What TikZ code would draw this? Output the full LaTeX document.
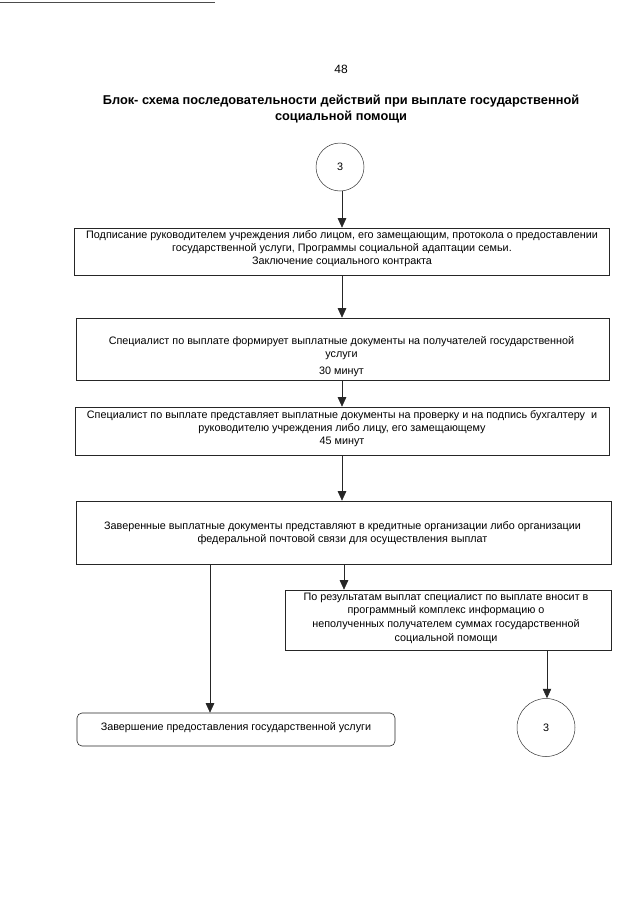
\documentclass[tikz,border=0pt]{standalone}
\usepackage{fontspec}
\setmainfont{Liberation Sans}
\usetikzlibrary{arrows.meta,calc}
\begin{document}
\begin{tikzpicture}[x=1pt,y=-1pt,
  box/.style={draw=black!85, line width=0.6pt, rectangle, inner sep=0pt},
  rbox/.style={box, rounded corners=5pt},
  txt/.style={align=center, font=\fontsize{10.8}{13}\selectfont, inner sep=0pt},
  circ/.style={draw=black!80, line width=0.5pt, circle, inner sep=0pt, font=\fontsize{10.8}{13}\selectfont},
  arr/.style={draw=black!85, line width=0.6pt, -{Triangle[width=8.5pt,length=9.5pt]}},
  ttl/.style={align=center, font=\fontsize{12.8}{16}\selectfont\bfseries, inner sep=0pt},
]
\useasboundingbox (0,0) rectangle (640,905);
\fill[white] (0,0) rectangle (640,905);
\draw[black!70, line width=0.6pt] (0,2) -- (215,2);

\node[txt, font=\fontsize{12}{14}\selectfont] (pg) at (341,69) {48};
\node[ttl] (title) at (341,109) {Блок- схема последовательности действий при выплате государственной\\социальной помощи};

\node[circ, minimum size=48pt] (c1) at (340,167) {3};

\node[box, minimum width=535pt, minimum height=47pt] (b1) at (341.5,251.5) {};
\node[txt] (t1) at (342,248.5) {Подписание руководителем учреждения либо лицом, его замещающим, протокола о предоставлении\\государственной услуги, Программы социальной адаптации семьи.\\Заключение социального контракта};

\node[box, minimum width=533pt, minimum height=62pt] (b2) at (342.5,349) {};
\node[txt] (t2) at (341.5,357) {Специалист по выплате формирует выплатные документы на получателей государственной\\услуги\\[4pt]30 минут};

\node[box, minimum width=534pt, minimum height=48pt] (b3) at (342,431) {};
\node[txt] (t3) at (342,429) {Специалист по выплате представляет выплатные документы на проверку и на подпись бухгалтеру\ \ и\\руководителю учреждения либо лицу, его замещающему\\45 минут};

\node[box, minimum width=535pt, minimum height=63pt] (b4) at (343.5,532.5) {};
\node[txt] (t4) at (342.5,533.5) {Заверенные выплатные документы представляют в кредитные организации либо организации\\федеральной почтовой связи для осуществления выплат};

\node[box, minimum width=326pt, minimum height=60pt] (b6) at (448,620) {};
\node[txt, font=\fontsize{10.8}{13.7}\selectfont] (t6) at (446,618) {По результатам выплат специалист по выплате вносит в\\программный комплекс информацию о\\неполученных получателем суммах государственной\\социальной помощи};

\node[rbox, minimum width=318pt, minimum height=33pt] (b5) at (236,729.5) {};
\node[txt] (t5) at (236,728) {Завершение предоставления государственной услуги};

\node[circ, minimum size=58pt] (c2) at (546,727.5) {3};

\coordinate (xm) at (342,0);
\coordinate (xl) at (210,0);
\coordinate (xr) at (344,0);
\coordinate (xc) at (547,0);

\draw[arr] (c1.south -| xm) -- (b1.north -| xm);
\draw[arr] (b1.south -| xm) -- (b2.north -| xm);
\draw[arr] (b2.south -| xm) -- (b3.north -| xm);
\draw[arr] (b3.south -| xm) -- (b4.north -| xm);
\draw[arr] (b4.south -| xl) -- (b5.north -| xl);
\draw[arr] (b4.south -| xr) -- (b6.north -| xr);
\draw[arr] (b6.south -| xc) -- (c2.north -| xc);
\end{tikzpicture}
\end{document}
